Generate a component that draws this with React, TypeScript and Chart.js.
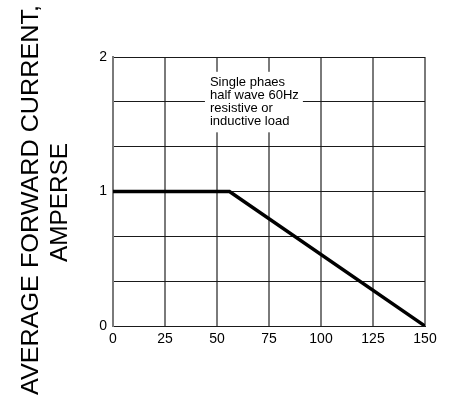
import React, { useEffect, useRef } from "react";
import { Chart, registerables } from "chart.js";

Chart.register(...registerables);

const temperatures = [0, 56, 150];
const currents = [1, 1, 0];
const xTickValues = [0, 25, 50, 75, 100, 125, 150];
const yTickValues = [0, 1 / 3, 2 / 3, 1, 4 / 3, 5 / 3, 2];
const yLabeled = [0, 1, 2];
const noteLines = ["Single phaes", "half wave 60Hz", "resistive or", "inductive load"];
const yTitleLine1 = "AVERAGE FORWARD CURRENT,";
const yTitleLine2 = "AMPERSE";

const FONT = '"Liberation Sans", Arial, sans-serif';

export default function App() {
  const ref = useRef<HTMLCanvasElement>(null);

  useEffect(() => {
    if (!ref.current) return;
    const notePlugin = {
      id: "notePlugin",
      beforeDatasetsDraw(chart: any) {
        const { ctx, scales } = chart;
        const x = scales.x;
        const y = scales.y;
        const left = x.getPixelForValue(44.2);
        const right = x.getPixelForValue(91.3);
        const top = y.getPixelForValue(1.89);
        const bottom = y.getPixelForValue(1.44);
        ctx.save();
        ctx.fillStyle = "#ffffff";
        ctx.fillRect(left, top, right - left, bottom - top);
        ctx.fillStyle = "#000000";
        ctx.font = "13px " + FONT;
        ctx.textAlign = "left";
        ctx.textBaseline = "alphabetic";
        const tx = x.getPixelForValue(46.6);
        const ty = y.getPixelForValue(1.784);
        noteLines.forEach((l, i) => ctx.fillText(l, tx, ty + i * 13));
        ctx.restore();
      },
      afterDraw(chart: any) {
        const { ctx } = chart;
        const drawFit = (text: string, yStart: number, yEnd: number, baseX: number) => {
          ctx.save();
          ctx.fillStyle = "#000000";
          ctx.font = "24px " + FONT;
          ctx.textBaseline = "alphabetic";
          ctx.textAlign = "center";
          const w = ctx.measureText(text).width;
          const target = yEnd - yStart;
          ctx.translate(baseX, (yStart + yEnd) / 2);
          ctx.rotate(-Math.PI / 2);
          ctx.scale(target / w, 1);
          ctx.fillText(text, 0, 0);
          ctx.restore();
        };
        drawFit(yTitleLine1, 5, 395, 38);
        drawFit(yTitleLine2, 143, 262, 66.5);
      },
    };

    const chart = new Chart(ref.current, {
      type: "line",
      data: {
        datasets: [
          {
            data: temperatures.map((t, i) => ({ x: t, y: currents[i] })),
            borderColor: "#000000",
            borderWidth: 3.5,
            pointRadius: 0,
            fill: false,
            tension: 0,
          },
        ],
      },
      options: {
        responsive: false,
        animation: false,
        layout: { padding: { left: 0, top: 57, right: 34, bottom: 0 } },
        plugins: { legend: { display: false }, tooltip: { enabled: false } },
        scales: {
          x: {
            type: "linear",
            min: 0,
            max: 150,
            afterBuildTicks: (s: any) => {
              s.ticks = xTickValues.map((v) => ({ value: v }));
            },
            afterFit: (s: any) => {
              s.height = 77;
            },
            grid: { color: "#7a7a7a", lineWidth: 2, drawTicks: false },
            border: { color: "#1a1a1a", width: 1 },
            ticks: {
              color: "#000000",
              font: { family: FONT, size: 14 },
              padding: 5,
              maxRotation: 0,
              autoSkip: false,
              callback: (v: any) => String(v),
            },
          },
          y: {
            type: "linear",
            min: 0,
            max: 2,
            afterBuildTicks: (s: any) => {
              s.ticks = yTickValues.map((v) => ({ value: v }));
            },
            afterFit: (s: any) => {
              s.width = 113;
            },
            grid: { color: "#1a1a1a", lineWidth: 1, drawTicks: false },
            border: { color: "#7a7a7a", width: 2 },
            ticks: {
              color: "#000000",
              font: { family: FONT, size: 14 },
              padding: 6,
              autoSkip: false,
              callback: (v: any) => {
                const n = Number(v);
                const hit = yLabeled.find((k) => Math.abs(k - n) < 1e-6);
                return hit === undefined ? "" : String(hit);
              },
            },
          },
        },
      },
      plugins: [notePlugin],
    });
    return () => chart.destroy();
  }, []);

  return (
    <div style={{ position: "fixed", left: 0, top: 0, width: 459, height: 403, background: "#fff" }}>
      <canvas ref={ref} width={459} height={403} />
    </div>
  );
}
